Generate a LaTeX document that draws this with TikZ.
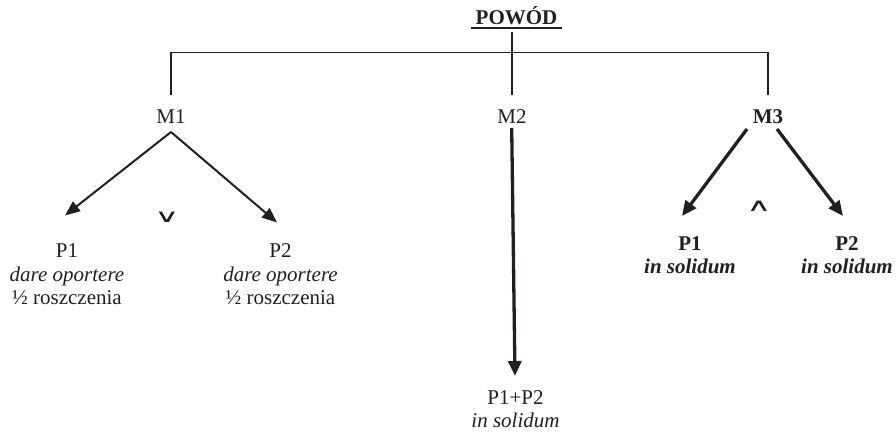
\documentclass[tikz,border=0pt]{standalone}
\usepackage{fontspec}
\setmainfont{Liberation Serif}
\newfontfamily\symfont{DejaVu Sans}
\usetikzlibrary{arrows.meta}
\definecolor{ink}{HTML}{231F20}
\begin{document}
\begin{tikzpicture}[x=1pt,y=-1pt,
  lbl/.style={inner sep=0pt,anchor=base,text=ink,font=\fontsize{21}{23.3}\selectfont,align=center},
  treeline/.style={draw=ink,line width=1.4pt},
  thinarrow/.style={draw=ink,line width=2pt,-{Triangle[length=15pt,width=12pt]}},
  thickarrow/.style={draw=ink,line width=3.3pt,-{Triangle[length=15pt,width=13pt]}},
  opsym/.style={inner sep=0pt,text=ink,font=\symfont\fontsize{18}{19}\selectfont}]
\useasboundingbox (0,0) rectangle (896,432);
% root
\node[lbl,font=\fontsize{21}{23.3}\selectfont\bfseries] (powod) at (516.5,24) {POWÓD};
\coordinate (ulL) at (471,28.3);
\coordinate (ulR) at (562,28.3);
\draw[draw=ink,line width=1.8pt] (ulL) -- (ulR);
% level 1
\node[lbl] (m1) at (171,123) {M1};
\node[lbl] (m2) at (512,123) {M2};
\node[lbl,font=\fontsize{21}{23.3}\selectfont\bfseries] (m3) at (768,123) {M3};
% tree lines
\coordinate (rootTop) at (512,32);
\coordinate (barL) at (171,52.5);
\coordinate (barR) at (768,52.5);
\coordinate (m1top) at (171,95);
\coordinate (m2top) at (512,95);
\coordinate (m3top) at (768,95);
\draw[treeline] (rootTop) -- (m2top);
\draw[treeline] (m1top) -- (barL) -- (barR) -- (m3top);
% level 2 nodes (base = baseline of the last line)
\node[lbl] (p1a) at (67,304.3) {P1\\\textit{dare oportere}\\½ roszczenia};
\node[lbl] (p2a) at (280.5,304.3) {P2\\\textit{dare oportere}\\½ roszczenia};
\node[lbl] (p12) at (515.5,427.5) {P1+P2\\\textit{in solidum}};
\node[lbl,font=\fontsize{21}{23.3}\selectfont\bfseries] (p1c) at (690,273.5) {P1\\\textit{in solidum}};
\node[lbl,font=\fontsize{21}{23.3}\selectfont\bfseries] (p2c) at (847,273.5) {P2\\\textit{in solidum}};
% arrows
\coordinate (m1s) at (171,132);
\coordinate (t1a) at (65,215.5);
\coordinate (t2a) at (277,222.5);
\draw[thinarrow] (m1s) -- (t1a);
\draw[thinarrow] (m1s) -- (t2a);
\coordinate (m2s) at (511.7,128);
\coordinate (t12) at (515,376);
\draw[thickarrow] (m2s) -- (t12);
\coordinate (m3sl) at (747,129);
\coordinate (m3sr) at (777,129);
\coordinate (t1c) at (682,216);
\coordinate (t2c) at (843,216);
\draw[thickarrow] (m3sl) -- (t1c);
\draw[thickarrow] (m3sr) -- (t2c);
% operators
\node[opsym] (orsym) at (167,217) {\scalebox{1.9}[1]{∨}};
\node[opsym] (andsym) at (759,206) {\scalebox{1.9}[1]{∧}};
\end{tikzpicture}
\end{document}
